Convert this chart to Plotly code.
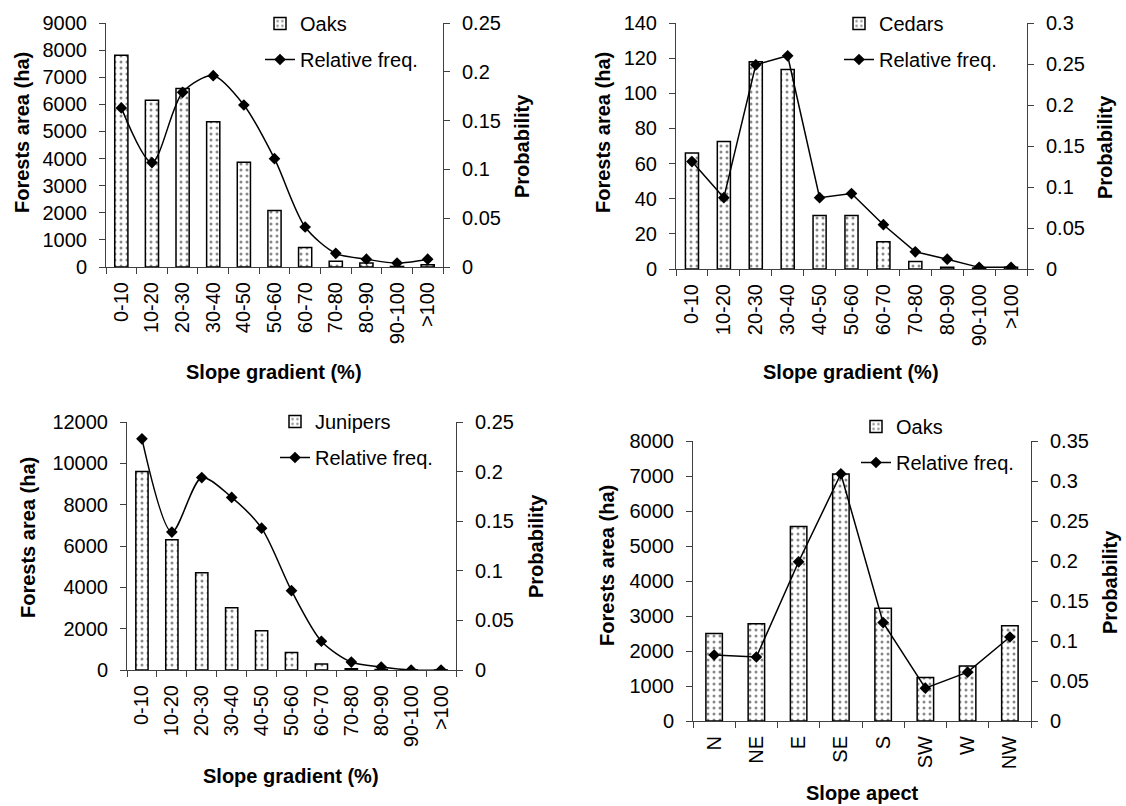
import plotly.graph_objects as go

W, H = 1126, 806
FONT = "Arial, Liberation Sans, sans-serif"

slope_classes = ["0-10", "10-20", "20-30", "30-40", "40-50", "50-60",
                 "60-70", "70-80", "80-90", "90-100", ">100"]
aspect_classes = ["N", "NE", "E", "SE", "S", "SW", "W", "NW"]

# forest area (ha) and relative frequency per class
oaks_slope_area = [7810, 6150, 6580, 5360, 3860, 2080, 720, 210, 150, 20, 85]
oaks_slope_prob = [0.163, 0.107, 0.179, 0.196, 0.166, 0.111, 0.041, 0.014, 0.008, 0.004, 0.008]

cedars_slope_area = [66, 72.5, 118, 113.5, 30.5, 30.5, 15.5, 4.2, 1, 0.5, 1]
cedars_slope_prob = [0.131, 0.087, 0.249, 0.260, 0.087, 0.092, 0.054, 0.021, 0.012, 0.002, 0.002]

junipers_slope_area = [9600, 6300, 4700, 3010, 1900, 850, 290, 60, 25, 10, 5]
junipers_slope_prob = [0.233, 0.139, 0.194, 0.174, 0.143, 0.080, 0.029, 0.008, 0.003, 0.0, 0.0]

oaks_aspect_area = [2500, 2780, 5560, 7060, 3220, 1240, 1570, 2720]
oaks_aspect_prob = [0.0825, 0.080, 0.199, 0.309, 0.123, 0.041, 0.061, 0.105]

# pixel boxes of each plot area: (x0, x1), (ytop, ybottom)
panels = [
    dict(cats=slope_classes, area=oaks_slope_area, prob=oaks_slope_prob, name="Oaks",
         xpx=(106, 443), ypx=(23, 267), ymax=9000, ydt=1000, pmax=0.25, smooth=True,
         bw=0.43, leg=(260, 4), xtitle="Slope gradient (%)", xt=(274, 372),
         lt=(22, 133), rt=(522, 146)),
    dict(cats=slope_classes, area=cedars_slope_area, prob=cedars_slope_prob, name="Cedars",
         xpx=(676, 1027), ypx=(23, 269), ymax=140, ydt=20, pmax=0.3, smooth=False,
         bw=0.41, leg=(839, 4), xtitle="Slope gradient (%)", xt=(851, 372),
         lt=(603, 133), rt=(1105, 147)),
    dict(cats=slope_classes, area=junipers_slope_area, prob=junipers_slope_prob, name="Junipers",
         xpx=(127, 456), ypx=(422, 670), ymax=12000, ydt=2000, pmax=0.25, smooth=True,
         bw=0.41, leg=(275, 402), xtitle="Slope gradient (%)", xt=(291, 776),
         lt=(28, 538), rt=(536, 546)),
    dict(cats=aspect_classes, area=oaks_aspect_area, prob=oaks_aspect_prob, name="Oaks",
         xpx=(693, 1031), ypx=(441, 721), ymax=8000, ydt=1000, pmax=0.35, smooth=False,
         bw=0.39, leg=(856, 407), xtitle="Slope apect", xt=(862, 793),
         lt=(607, 566), rt=(1110, 582)),
]

fig = go.Figure()
layout = dict(
    width=W, height=H, margin=dict(l=0, r=0, t=0, b=0, autoexpand=False),
    paper_bgcolor="white", plot_bgcolor="white",
    font=dict(family=FONT, size=20, color="black"),
    barmode="overlay", showlegend=True, annotations=[],
)

axis_common = dict(showgrid=False, zeroline=False, showline=True, linecolor="#404040",
                   linewidth=1, ticks="outside", ticklen=6, tickcolor="#404040",
                   automargin=False,
                   tickfont=dict(family=FONT, size=20, color="black"))

for i, p in enumerate(panels):
    n = i + 1
    xa = "x" if n == 1 else f"x{n}"
    ya_l = "y" if n == 1 else f"y{2 * n - 1}"
    ya_r = f"y{2 * n}"
    leg = "legend" if n == 1 else f"legend{n}"

    fig.add_trace(go.Bar(
        x=p["cats"], y=p["area"], name=p["name"], xaxis=xa, yaxis=ya_l,
        width=p["bw"], legend=leg, legendgroup=f"b{n}",
        marker=dict(color="white", line=dict(color="black", width=1.5),
                    pattern=dict(shape=".", fgcolor="#111111", bgcolor="white",
                                 size=6, solidity=0.2)),
    ))
    fig.add_trace(go.Scatter(
        x=p["cats"], y=p["prob"], name="Relative freq.", xaxis=xa, yaxis=ya_r,
        mode="lines+markers", legend=leg, legendgroup=f"l{n}",
        line=dict(color="black", width=1.5,
                  shape="spline" if p["smooth"] else "linear", smoothing=0.8),
        marker=dict(symbol="diamond", size=9, color="black"),
    ))

    x0, x1 = p["xpx"]
    yt, yb = p["ypx"]
    layout[xa.replace("x", "xaxis")] = dict(
        axis_common, type="category", domain=[x0 / W, x1 / W], anchor=ya_l,
        range=[-0.5, len(p["cats"]) - 0.5], tickangle=-90, tickson="boundaries",
        ticklabelstandoff=6,
    )
    layout[ya_l.replace("y", "yaxis")] = dict(
        axis_common, domain=[1 - yb / H, 1 - yt / H], anchor=xa,
        range=[0, p["ymax"]], dtick=p["ydt"], tickformat="d", ticklabelstandoff=8,
    )
    layout[ya_r.replace("y", "yaxis")] = dict(
        axis_common, overlaying=ya_l, side="right", anchor=xa,
        range=[0, p["pmax"]], dtick=0.05, ticklabelstandoff=8,
    )
    layout[leg] = dict(
        x=p["leg"][0] / W, y=1 - p["leg"][1] / H, xanchor="left", yanchor="top",
        bgcolor="rgba(0,0,0,0)", traceorder="grouped", tracegroupgap=7,
        font=dict(family=FONT, size=20, color="black"), itemwidth=30,
    )

    title_font = dict(family=FONT, size=20, color="black")
    common = dict(xref="paper", yref="paper", showarrow=False, font=title_font,
                  xanchor="center", yanchor="middle")
    layout["annotations"] += [
        dict(common, text=f"<b>{p['xtitle']}</b>", x=p["xt"][0] / W, y=1 - p["xt"][1] / H),
        dict(common, text="<b>Forests area (ha)</b>", x=p["lt"][0] / W,
             y=1 - p["lt"][1] / H, textangle=-90),
        dict(common, text="<b>Probability</b>", x=p["rt"][0] / W,
             y=1 - p["rt"][1] / H, textangle=-90),
    ]

fig.update_layout(**layout)
# the browser's default 8px body margin would shift the whole figure
fig.write_html("out.html", config={"displayModeBar": False},
               post_script="document.body.style.margin='0px';")
